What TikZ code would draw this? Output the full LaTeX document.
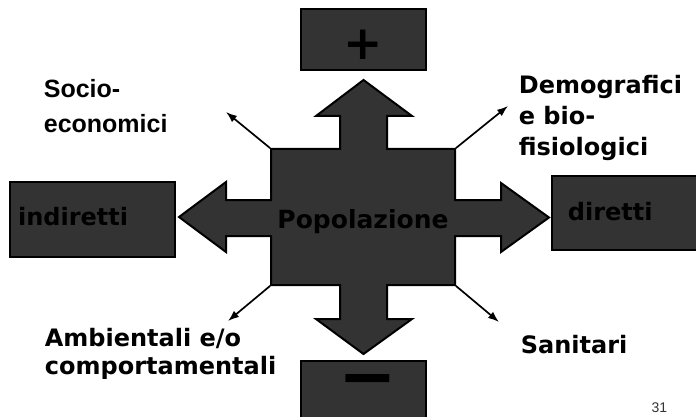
\documentclass[tikz,border=0pt]{standalone}
\usepackage{fontspec}
\setmainfont{DejaVu Sans}
\newfontfamily\arialfont{Liberation Sans}
\newfontfamily\arialbold{Liberation Sans}[UprightFont={* Bold}]
\usetikzlibrary{arrows.meta,positioning}
\definecolor{boxgray}{RGB}{51,51,51}

\begin{document}
\begin{tikzpicture}[x=1pt,y=-1pt,->,>={Latex[length=11pt,width=8pt]},line width=1.7pt]
  \tikzstyle{every node}=[inner sep=0pt]
  \tikzstyle{valbox}=[rectangle,draw=black,fill=boxgray,line width=2pt,minimum width=125pt,minimum height=61pt]
  \tikzstyle{factor}=[anchor=north west,align=left,font=\fontsize{24}{31}\selectfont\bfseries]

  \useasboundingbox (0,0) rectangle (696,417);

  \filldraw[-,fill=boxgray,draw=black,line width=2pt]
    (271,149) -- (340,149) -- (340,116) -- (316,116) -- (363.5,80) -- (412,116) -- (387,116) -- (387,149)
    -- (455,149) -- (455,200) -- (501,200) -- (501,183) -- (549,217.5) -- (501,252) -- (501,236) -- (455,236)
    -- (455,285) -- (387,285) -- (387,319) -- (412,319) -- (363.5,354) -- (316,319) -- (340,319) -- (340,285)
    -- (271,285) -- (271,236) -- (226,236) -- (226,252) -- (179,217) -- (226,182) -- (226,200) -- (271,200) -- cycle;

  \node[minimum width=184pt,minimum height=136pt,text height=22pt,text depth=0pt,
        font=\fontsize{25}{30}\selectfont\bfseries] (pop) at (363,217) {Popolazione};

  \node[valbox,above=77pt of pop,text height=40pt,font=\fontsize{47}{50}\selectfont\bfseries] (piu) {+};
  \node[valbox,minimum height=70pt,below=74pt of pop] (meno) {};
  \node[font=\fontsize{70}{70}\selectfont\bfseries,anchor=base] (segno) at (367.5,400.5) {−};
  \node[valbox,minimum width=165pt,minimum height=75pt,text width=149pt,inner xsep=8pt,align=left,
        left=94pt of pop,yshift=-2.5pt,text depth=7pt,font=\fontsize{24}{30}\selectfont\bfseries] (ind) {indiretti};
  \node[valbox,minimum width=145pt,minimum height=74pt,text width=113pt,inner xsep=16pt,align=left,
        right=95pt of pop,yshift=4pt,text depth=4pt,font=\fontsize{24}{30}\selectfont\bfseries] (dir) {diretti};

  \node[factor,font=\arialbold\fontsize{25}{35}\selectfont] (socio) at (43,79) {Socio-\\economici};
  \node[factor] (demo) at (518,74) {Demografici\\e bio-\\fisiologici};
  \node[factor,font=\fontsize{24}{28}\selectfont\bfseries] (amb) at (44,327) {Ambientali e/o\\comportamentali};
  \node[factor,anchor=base west] (san) at (520,353) {Sanitari};
  \node[font=\arialfont\fontsize{14}{14}\selectfont,text=boxgray,anchor=base east] (pagina) at (668,412) {31};

  \coordinate (nw) at (226,112);
  \coordinate (ne) at (508,106);
  \coordinate (sw) at (228,321);
  \coordinate (se) at (499,322);

  \draw (pop.north west) -- (nw);
  \draw (pop.north east) -- (ne);
  \draw (pop.south west) -- (sw);
  \draw (pop.south east) -- (se);
\end{tikzpicture}
\end{document}
